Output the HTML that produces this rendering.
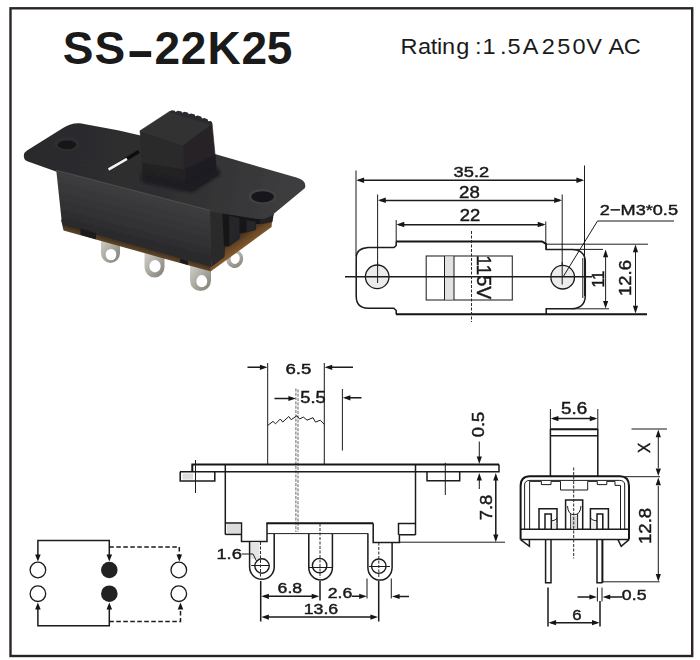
<!DOCTYPE html>
<html>
<head>
<meta charset="utf-8">
<title>SS-22K25</title>
<style>
html,body{margin:0;padding:0;background:#fff;}
body{width:700px;height:660px;overflow:hidden;position:relative;font-family:"Liberation Sans",sans-serif;}
svg{position:absolute;left:0;top:0;display:block;}
.t{font-family:"Liberation Sans",sans-serif;fill:#1a1a1a;}
.l{stroke:#1c1c1c;stroke-width:1;fill:none;}
.k{stroke:#161616;stroke-width:2;fill:none;}
.m{stroke:#1a1a1a;stroke-width:1.5;fill:none;}
.d{stroke:#2a2a2a;stroke-width:1;fill:none;stroke-dasharray:3 1.5;}
.a{fill:#161616;stroke:none;}
</style>
</head>
<body>
<svg width="700" height="660" viewBox="0 0 700 660">
<defs>
<filter id="soft" x="-5%" y="-5%" width="110%" height="110%"><feGaussianBlur stdDeviation="0.7"/></filter>
<filter id="ink" x="-2%" y="-2%" width="104%" height="104%"><feGaussianBlur stdDeviation="0.35"/></filter>
<linearGradient id="lug" x1="0" y1="0" x2="1" y2="1"><stop offset="0" stop-color="#d4d2cc"/><stop offset="0.5" stop-color="#aaa8a0"/><stop offset="1" stop-color="#7e7b72"/></linearGradient>
<linearGradient id="brn" gradientUnits="userSpaceOnUse" x1="100" y1="232" x2="97" y2="243"><stop offset="0" stop-color="#2a2420"/><stop offset="0.5" stop-color="#4e3a24"/><stop offset="1" stop-color="#76532e"/></linearGradient>
<linearGradient id="brn2" gradientUnits="userSpaceOnUse" x1="240" y1="241" x2="245" y2="248"><stop offset="0" stop-color="#2a2420"/><stop offset="0.45" stop-color="#5c4026"/><stop offset="1" stop-color="#80582c"/></linearGradient>
<linearGradient id="ff" gradientUnits="userSpaceOnUse" x1="130" y1="190" x2="117" y2="240"><stop offset="0" stop-color="#3d3d3f"/><stop offset="0.45" stop-color="#353537"/><stop offset="1" stop-color="#29292b"/></linearGradient>
<linearGradient id="pl" gradientUnits="userSpaceOnUse" x1="30" y1="150" x2="300" y2="190"><stop offset="0" stop-color="#2b2b2c"/><stop offset="0.5" stop-color="#2e2e30"/><stop offset="1" stop-color="#3e3e40"/></linearGradient>
<filter id="sh" x="-20%" y="-20%" width="140%" height="140%"><feGaussianBlur stdDeviation="1.8"/></filter>
<linearGradient id="brn3" gradientUnits="userSpaceOnUse" x1="236" y1="236" x2="244" y2="248"><stop offset="0" stop-color="#3a2c1e"/><stop offset="0.5" stop-color="#684826"/><stop offset="1" stop-color="#83592c"/></linearGradient>
</defs>
<rect x="0" y="0" width="700" height="660" fill="#ffffff"/>
<!-- outer border -->
<rect x="10.5" y="8.3" width="681.7" height="647.7" fill="none" stroke="#2a2522" stroke-width="2.4"/>

<!-- titles -->
<text id="title" class="t" y="64" font-size="46" font-weight="bold" fill="#1b1612" x="62.7 94.6 154.6 180.7 207.6 241.5 266.8">SS22K25</text>
<text id="tdash" class="t" font-size="46" font-weight="bold" fill="#1b1612" transform="translate(128.2,71.2) scale(0.95,1.3)" x="0" y="-1">–</text>
<text id="rating" class="t" y="53.7" font-size="22" fill="#1b1612" transform="scale(1.07,1)" x="374.3 390.7 402.6 408.4 413.2 426.4 444.0 450.9 467.3 474.4 488.6 501.9 506.3 520.7 535.0 547.9 562.6 568.8 582.9">Rating:1.5A 250V AC</text>

<!-- PHOTO -->
<g id="photo" filter="url(#soft)">

<!-- lugs -->
<g>
<path d="M101,238 L101,253 A9.5,10 0 0 0 120,253 L120,243 Z" fill="url(#lug)"/>
<ellipse cx="111" cy="254.6" rx="5.3" ry="5.7" fill="#fff"/>
<path d="M144.5,252 L144.5,267 A10,10.5 0 0 0 164.5,267 L164.5,257 Z" fill="url(#lug)"/>
<ellipse cx="155" cy="266.2" rx="5.6" ry="6.2" fill="#fff"/>
<path d="M190,264 L190,280.5 A10.5,10.5 0 0 0 211,280.5 L211,268 Z" fill="url(#lug)"/>
<ellipse cx="201.8" cy="281.2" rx="5.4" ry="6.1" fill="#fff"/>
<ellipse cx="234.8" cy="259" rx="8.3" ry="9" transform="rotate(15 234.8 259)" fill="url(#lug)"/>
<ellipse cx="235.2" cy="258.6" rx="4.5" ry="5.4" transform="rotate(15 235.2 258.6)" fill="#fff"/>
</g>
<!-- brown board -->
<polygon points="61,219.5 211,262 211,271.6 170,260.2 63.5,230.6" fill="url(#brn)"/>
<!-- body end face -->
<polygon points="209,208 273.6,214 272,221 224.5,256 211.5,266.5" fill="#151516"/>
<polygon points="210.5,265.5 224.5,255.5 224.5,246.5 229.3,246.2 239.5,238.8 239.5,233.5 246.4,232.2 255.9,229.8 255.9,224 260,224 272,220.5 271.6,227 210.3,271.8" fill="url(#brn3)"/>
<polygon points="208.9,210 222.5,212.5 224.5,257 211.6,266.8" fill="#29292b"/>
<polygon points="229.3,216 239.5,218 239.5,238.6 229.3,246.1" fill="#27272a"/>
<polygon points="246.4,220 255.9,221.5 255.9,229.8 246.4,232.6" fill="#252528"/>
<polygon points="260,214 273.6,214 272.5,222 260,224.5" fill="#232326"/>
<!-- body front face -->
<path d="M56,168 L210,209 L211.5,267 L66,226 Q62,225 61.7,221 Z" fill="url(#ff)"/>
<!-- notches -->
<polygon points="80.5,228.5 96,233.2 96,239.3 80.5,234.8" fill="#1b1b1d"/>
<polygon points="180,258.5 188,261 188,265 180,262.5" fill="#1c1c1e"/>
<!-- plate -->
<path d="M24,157 Q23,153 27,150.5 L63,128 Q71,122.6 80,123.2 L119,130.5 L138.4,135.1 L215.8,154.2 L296.4,177.6 Q307,180.5 305,188 L276,212 Q268,220 257,219 L209.7,211.5 L56,171.5 L28,161.5 Q24,160 24,157 Z" fill="url(#pl)"/>
<path d="M56,170.5 L209.7,210.5" stroke="#4a4a4d" stroke-width="1.3" fill="none"/>
<!-- holes -->
<ellipse cx="66.8" cy="144" rx="12.4" ry="7" fill="#2f2f31"/>
<ellipse cx="67" cy="144.8" rx="9.4" ry="4.4" fill="#171718"/>
<ellipse cx="262.5" cy="196.5" rx="14" ry="7.6" fill="#434345"/>
<ellipse cx="262.6" cy="196.8" rx="11.4" ry="5.6" fill="#19191a"/>
<!-- white sliver -->
<path d="M108.5,169.5 L139,151.5" stroke="#0e0e0f" stroke-width="3.4" fill="none"/>
<path d="M108.5,169.5 L127,158.8" stroke="#f2f2f2" stroke-width="2.6" fill="none"/>
<!-- knob -->
<polygon points="143,172 188,183 217,168 220,174 192,192 142,181" fill="#1f1f21" filter="url(#sh)"/>
<polygon points="183,144.5 212,123 216.5,170 185,188.2" fill="#252427" stroke="#252427" stroke-width="0.6"/>
<polygon points="184.2,169.5 215.3,155 216.5,170 185,188.2" fill="#1f1e20"/>
<polygon points="140,130.8 169.5,111.5 212,123.3 183.3,145" fill="#313033" stroke="#313033" stroke-width="0.6"/>
<polygon points="140,130.8 183.3,145 185,188.2 143.6,181" fill="#2a292c" stroke="#2a292c" stroke-width="0.6"/>
<polygon points="142.2,163 184.2,169.5 185,188.2 143.6,181" fill="#222123"/>
<path d="M169,112 l2.5,-1.8 l3.5,0.6 l0.4,1.2 l2.6,-1.2 l3.6,0.6 l0.4,1.4 l2.6,-1 l3.6,1 l0.4,1.5 l2.6,-0.9 l3.6,1.2 l0.4,1.6 l2.6,-0.8 l3.6,1.4 l0.4,1.7 l2.6,-0.6 l3.4,1.6 l0.3,1.8 l2.4,-0.2 l1.5,1 l0,3 Z" fill="#2c2b2e"/>
</g>

<!-- TOPVIEW -->
<g id="topview" filter="url(#ink)">

<!-- extension lines -->
<path class="l" d="M356,170.5 V256 M584.5,165.5 V296 M377.6,194.5 V283 M562.2,194.5 V284.5 M396.2,220 V241.5 M545.8,221.5 V249.5"/>
<!-- dim lines -->
<path class="m" d="M358,180.3 H582 M380,200.4 H560 M398.5,224.7 H543.5" stroke-width="2"/>
<path class="a" d="M356.3,180.3 l7.8,-2.7 v5.4 Z M584.2,180.3 l-7.8,-2.7 v5.4 Z M378,200.2 l7.8,-2.7 v5.4 Z M562,200.2 l-7.8,-2.7 v5.4 Z M396.5,224.5 l7.8,-2.7 v5.4 Z M545.5,224.5 l-7.8,-2.7 v5.4 Z"/>
<!-- body outline -->
<path class="k" d="M396,241.4 H542 L546.5,244.2" />
<path class="l" d="M546,244.2 H648"/>
<path class="k" d="M396,314.2 H647" stroke-width="2.2"/>
<!-- left ear -->
<path class="m" d="M396.2,241.4 V245.5 L394,247.6 H368 Q356.2,248.5 356.2,258 V296 Q356.2,308 368,308.3 H393.8 L396.2,310.5 V314.2" stroke-width="1.15"/>
<!-- right ear -->
<path class="m" d="M546.2,244.2 V249.4 H572 Q585.3,249.8 585.3,262 V296 Q585,308 572,308.8 H546.2 V314" stroke-width="1.15"/>
<path class="l" d="M572,249.4 H603 M572,308.8 H609 M582.8,258 V298"/>
<!-- holes -->
<circle cx="377.2" cy="276.8" r="11.8" fill="#ececec" stroke="#1a1a1a" stroke-width="1.3"/>
<circle cx="562.7" cy="277.2" r="11.8" fill="#ececec" stroke="#1a1a1a" stroke-width="1.3"/>
<path class="l" d="M377.6,262 V283 M562.2,262 V284.5"/>
<!-- slider -->
<rect x="426.2" y="256" width="86.1" height="44" fill="#fff" stroke="#2a2a2a" stroke-width="1.1"/>
<rect x="444.5" y="256.5" width="9.5" height="43" fill="#e2e2e2"/>
<path class="l" d="M444.5,256 V300 M454,256 V300"/>
<!-- center lines -->
<path class="m" d="M345,276.8 H592" stroke-width="1.7"/>
<path class="d" d="M471.5,231 V322" stroke-dasharray="4 1.5" stroke-width="1.3"/>
<!-- leader -->
<path class="l" d="M563,277 L597.5,221 H674" stroke-width="1.1"/>
<!-- 11 & 12.6 dims -->
<path class="l" d="M605.6,252 V306 M635.5,247 V311"/>
<path class="a" d="M605.6,249.6 l-2.6,7.6 h5.2 Z M605.6,308.6 l-2.6,-7.6 h5.2 Z M635.5,244.6 l-2.6,7.6 h5.2 Z M635.5,313.4 l-2.6,-7.6 h5.2 Z"/>
</g>

<!-- FRONTVIEW -->
<g id="frontview" filter="url(#ink)">

<!-- knob ext lines -->
<path class="l" d="M267.7,363 V464 M324.3,363 V464 M342.4,389 V450.5" stroke-width="1.25"/>
<path d="M295.9,388.5 V532" stroke="#333" fill="none" stroke-width="0.75" stroke-dasharray="3 1.3"/><path d="M298,389.5 V532" stroke="#333" fill="none" stroke-width="0.75" stroke-dasharray="3 1.3"/>
<!-- 6.5 arrows -->
<path class="m" d="M247.5,367.3 H262 M330,367.3 H353 M274.5,398.5 H290 M348,397.8 H361.5"/>
<path class="a" d="M267.5,367.3 l-7.6,-2.6 v5.2 Z M324.6,367.3 l7.6,-2.6 v5.2 Z M296,398.5 l-7.6,-2.6 v5.2 Z M342.8,397.8 l7.6,-2.6 v5.2 Z"/>
<!-- knob zigzag -->
<path class="l" d="M267.7,425.5 L273,421.4 L275.5,423.8 L280.3,419 L282.7,422.1 L288.8,416.5 L291.2,419.7 L296.8,415.8 L299.7,419 L303.3,417 L307,420.2 L313,417.7 L315.5,422.1 L320.3,420.2 L324.4,424.5" stroke-width="1.5"/>
<!-- plate -->
<path class="k" d="M192.3,472 V464.4 H499" stroke-width="2.9"/>
<path class="m" d="M180,471.8 H499 V464.4" stroke-width="1.9"/>
<!-- flanges -->
<rect x="182.5" y="473.5" width="10.5" height="6" fill="#dedede"/>
<path class="m" d="M180.2,471.7 V481 H214.8 V471.7" stroke-width="1.4"/>
<path class="m" d="M427,471.7 V480.7 H459.7 V471.7" stroke-width="1.4"/>
<path class="l" d="M195.5,460 V493 M445.3,462.8 V495"/>
<!-- body -->
<path class="m" d="M225.3,465 V534.4 M415.5,465 V535" stroke-width="1.4"/>
<rect x="227" y="524" width="13" height="9.5" fill="#dcdcdc"/>
<path class="m" d="M225.3,523 H241.5 V541.6 H267 V523.3" stroke-width="1.4"/>
<path class="m" d="M225.3,534.4 H241.5" stroke-width="1.4"/>
<path class="k" d="M266.3,523.3 H373.2" stroke-width="2"/>
<path class="m" d="M373.2,523.3 V542.4 H399.4 V534.8 H415.5 M398.5,534.8 V523.5 H415.5" stroke-width="1.4"/>
<path class="l" d="M267,533.6 H368.5 M399.4,542.2 H505"/>
<!-- terminals -->

<!-- terminal 1 -->
<rect x="250.5" y="542" width="9" height="17" fill="#e4e4e4"/>
<path class="m" d="M249.6,541.6 V567 A12.3,12.3 0 0 0 274.2,567 V534" stroke-width="1.3"/>
<circle cx="262" cy="566" r="7.2" fill="#fff" stroke="#1a1a1a" stroke-width="1.4"/>
<path class="l" d="M251.2,565.5 H269.8" stroke-width="0.9"/>
<path class="d" d="M260.5,542 V578" stroke-dasharray="4 1.5"/>
<!-- terminal 2 -->
<path class="m" d="M308.8,534 V567.5 A11.8,12.5 0 0 0 332.4,567.5 V534" stroke-width="1.3"/>
<circle cx="319.6" cy="565.6" r="7.2" fill="#fff" stroke="#1a1a1a" stroke-width="1.4"/>
<path class="l" d="M309,567.5 H332" stroke-width="0.9"/>
<path class="d" d="M320,523.5 V578" stroke-dasharray="4 1.5"/>
<!-- terminal 3 -->
<path class="m" d="M367.9,534 V567.5 A12.1,12.6 0 0 0 392.1,567.5 V542.4" stroke-width="1.3"/>
<circle cx="378.8" cy="566.2" r="7.2" fill="#fff" stroke="#1a1a1a" stroke-width="1.4"/>
<path class="l" d="M369,566.5 H390" stroke-width="0.9"/>
<path class="d" d="M378.8,542.5 V578" stroke-dasharray="4 1.5"/>
<!-- 1.6 -->
<path class="l" d="M241.5,554 H253 L256.4,560.8"/>
<!-- lower dims -->
<path class="m" d="M260.7,581 V621.5 M320,581 V600.5 M378.7,581 V621.5" stroke-width="1.4"/>
<path class="l" d="M367,578.5 V598.5 M391.3,578.5 V598.5"/>
<path class="m" d="M264,596.3 H316 M264,617.1 H375 M351.8,596.3 H362 M398,596.5 H409" stroke-width="1.6"/>
<path class="a" d="M261.3,596.3 l7.6,-2.6 v5.2 Z M319.3,596.3 l-7.6,-2.6 v5.2 Z M261.3,617.1 l7.6,-2.6 v5.2 Z M378,617.1 l-7.6,-2.6 v5.2 Z M366.8,596.3 l-7.6,-2.6 v5.2 Z M392,596.5 l7.6,-2.6 v5.2 Z"/>
<!-- 0.5 / 7.8 -->
<path class="l" d="M479.3,441.5 V458 M479.3,479 V489"/>
<path class="m" d="M495.8,480 V535" stroke-width="1.2"/>
<path class="a" d="M479.3,464 l-2.6,-7.6 h5.2 Z M479.3,473 l-2.6,7.6 h5.2 Z M495.8,473 l-2.6,7.6 h5.2 Z M495.8,542.2 l-2.6,-7.6 h5.2 Z"/>
</g>

<!-- SIDEVIEW -->
<g id="sideview" filter="url(#ink)">

<!-- 5.6 dim -->
<path class="l" d="M550.4,409 V429 M597.8,409 V429"/>
<path class="m" d="M553,418.6 H595" stroke-width="1.6"/>
<path class="a" d="M550.8,418.6 l7.6,-2.6 v5.2 Z M597.4,418.6 l-7.6,-2.6 v5.2 Z"/>
<!-- knob -->
<polygon points="143,172 188,183 217,168 220,174 192,192 142,181" fill="#1f1f21" filter="url(#sh)"/>
<path class="k" d="M550.4,429.3 H597.8" stroke-width="2"/>
<path class="m" d="M550.4,429 V476 M597.8,429 V476 M550.4,435.8 H597.8" stroke-width="1.4"/>
<!-- body outer -->
<path class="k" d="M520.6,539.6 V486 Q520.6,476.3 530,476.3 H620 Q629,476.3 629,486 V539.6" stroke-width="1.8"/>
<path class="m" d="M520.6,529.3 H629 M520.6,539.6 H629" stroke-width="1.5"/>
<!-- hooks -->
<path class="m" d="M520.6,539.6 L529.4,546.3 V539.6 M629,539.6 L621.2,546.3 L618,539.6" stroke-width="1.3"/>
<!-- inner frame -->
<path class="l" d="M524.6,529 V485 Q524.6,480.4 530,480.4 H619.5 Q624.7,480.4 624.7,485 V529" stroke-width="1.25"/>
<path class="l" d="M529.6,529 V481.4 H541.4 V484.6 H551 V481.4 H560.5 V490 H587.7 V481.4 H597.3 V484.6 H606.8 V481.4 H615 V485.4 H620.5 V529" stroke-width="1.1"/>
<!-- contacts -->
<path class="m" d="M539,529 V508.7 H557 V529 M545,529 V514 H551.3 V529 M590.4,529 V508.7 H608.4 V529 M597,529 V514 H602.8 V529" stroke-width="1.3"/>
<path class="l" d="M551.3,521 Q556,520.5 557,518 M597,521 Q592,520.5 590.4,518" stroke-width="0.9"/>
<rect x="552.2" y="522" width="4" height="6.5" fill="#ececec"/><rect x="591.4" y="522" width="4.6" height="6.5" fill="#ececec"/>
<path class="m" d="M565.6,529 V500.1 H582.7 V529" stroke-width="1.3"/>
<path class="l" d="M567.5,506 Q568,514.7 574.2,514.7 Q580.4,514.7 581,506 M570.7,514 V529 M577.6,514 V529" stroke-width="1"/>
<rect x="571.5" y="516" width="5.3" height="13" fill="#d4d4d4"/>
<path class="d" d="M573.7,467.5 V558.5" stroke-dasharray="5 1.5 1.5 1.5"/>
<!-- pins -->
<path class="m" d="M545.6,540 V582.8 H551 V540 M597,540 V582.8 H602.4" stroke-width="1.3"/>
<path class="k" d="M602.4,540 V582.8" stroke-width="1.8"/>
<!-- X / 12.8 dims -->
<path class="l" d="M631.5,429 H667 M625,476.7 H660 M603,581.8 H659.5 M658.3,437 V468 M658.3,486 V574"/>
<path class="a" d="M658.3,429.6 l-2.6,7.6 h5.2 Z M658.3,476 l-2.6,-7.6 h5.2 Z M658.3,477.6 l-2.6,7.6 h5.2 Z M658.3,581.5 l-2.6,-7.6 h5.2 Z"/>
<!-- 6 / 0.5 dims -->
<path class="m" d="M548,587.5 V626.5 M600,601 V626.5" stroke-width="1.3"/>
<path class="l" d="M597.4,587.5 V601.5 M602,587.5 V601.5"/>
<path class="m" d="M551,622.7 H597 M577.5,597 H590 M610,597 H622.5" stroke-width="1.5"/>
<path class="a" d="M548.5,622.7 l7.6,-2.6 v5.2 Z M599.6,622.7 l-7.6,-2.6 v5.2 Z M597,597 l-7.6,-2.6 v5.2 Z M602.6,597 l7.6,-2.6 v5.2 Z"/>
</g>

<!-- CIRCUIT -->
<g id="circuit" filter="url(#ink)">

<path class="m" d="M37.9,555 V540.6 H109.3 V555 M37.9,609 V625.7 H109.3 V609" stroke-width="1.3"/>
<path class="m" d="M109.3,547.1 H179.3 V555 M109.3,621.4 H180.5 V609" stroke-width="1.3" stroke-dasharray="4.5 2.5"/>
<path class="a" d="M37.9,561.6 l-2.8,-7 h5.6 Z M109.3,561.6 l-2.8,-7 h5.6 Z M179.3,561.6 l-2.8,-7 h5.6 Z M37.9,602.6 l-2.8,7 h5.6 Z M109.3,602.6 l-2.8,7 h5.6 Z M180.5,602.6 l-2.8,7 h5.6 Z"/>
<circle cx="37.9" cy="570" r="7.8" fill="#fff" stroke="#1a1a1a" stroke-width="1.3"/>
<circle cx="37.9" cy="593.7" r="7.8" fill="#fff" stroke="#1a1a1a" stroke-width="1.3"/>
<circle cx="109.3" cy="570" r="8.3" fill="#242424"/>
<circle cx="109.3" cy="593.7" r="8.3" fill="#242424"/>
<circle cx="178.8" cy="570" r="7.8" fill="#fff" stroke="#1a1a1a" stroke-width="1.3"/>
<circle cx="178.8" cy="593.7" r="7.8" fill="#fff" stroke="#1a1a1a" stroke-width="1.3"/>
</g>
<g id="labels" filter="url(#ink)" stroke="#1a1a1a" stroke-width="0.45">
<text class="t" x="453.57" y="176.65" font-size="15.35" textLength="35.57" lengthAdjust="spacingAndGlyphs">35.2</text>
<text class="t" x="459.07" y="197.84" font-size="15.77" textLength="20.72" lengthAdjust="spacingAndGlyphs">28</text>
<text class="t" x="459.88" y="221.40" font-size="16.00" textLength="20.48" lengthAdjust="spacingAndGlyphs">22</text>
<text class="t" x="599.89" y="215.15" font-size="15.21" textLength="78.11" lengthAdjust="spacingAndGlyphs">2−M3*0.5</text>
<text class="t" x="285.47" y="373.85" font-size="15.21" textLength="25.88" lengthAdjust="spacingAndGlyphs">6.5</text>
<text class="t" x="300.27" y="403.04" font-size="15.57" textLength="25.47" lengthAdjust="spacingAndGlyphs">5.5</text>
<text class="t" x="216.43" y="559.05" font-size="15.21" textLength="25.39" lengthAdjust="spacingAndGlyphs">1.6</text>
<text class="t" x="277.62" y="593.05" font-size="14.65" textLength="24.49" lengthAdjust="spacingAndGlyphs">6.8</text>
<text class="t" x="327.72" y="597.85" font-size="14.93" textLength="24.58" lengthAdjust="spacingAndGlyphs">2.6</text>
<text class="t" x="303.67" y="614.05" font-size="14.93" textLength="34.55" lengthAdjust="spacingAndGlyphs">13.6</text>
<text class="t" x="561.05" y="413.64" font-size="15.77" textLength="26.21" lengthAdjust="spacingAndGlyphs">5.6</text>
<text class="t" x="572.16" y="620.15" font-size="14.79" textLength="9.31" lengthAdjust="spacingAndGlyphs">6</text>
<text class="t" x="621.89" y="600.15" font-size="14.79" textLength="24.62" lengthAdjust="spacingAndGlyphs">0.5</text>
<text class="t" transform="translate(604.30,287.41) rotate(-90)" font-size="15.94" textLength="16.77" lengthAdjust="spacingAndGlyphs">11</text>
<text class="t" transform="translate(630.63,295.88) rotate(-90)" font-size="16.62" textLength="35.73" lengthAdjust="spacingAndGlyphs">12.6</text>
<text class="t" transform="translate(484.34,437.13) rotate(-90)" font-size="15.92" textLength="25.36" lengthAdjust="spacingAndGlyphs">0.5</text>
<text class="t" transform="translate(491.63,520.22) rotate(-90)" font-size="16.62" textLength="25.45" lengthAdjust="spacingAndGlyphs">7.8</text>
<text class="t" transform="translate(650.00,453.08) rotate(-90)" font-size="17.10" textLength="10.22" lengthAdjust="spacingAndGlyphs">X</text>
<text class="t" transform="translate(651.43,544.10) rotate(-90)" font-size="16.62" textLength="36.27" lengthAdjust="spacingAndGlyphs">12.8</text>
<text class="t" transform="translate(477.21,255.24) rotate(90)" font-size="20.71" textLength="43.88" lengthAdjust="spacingAndGlyphs">115V</text>
</g>
</svg>
</body>
</html>
